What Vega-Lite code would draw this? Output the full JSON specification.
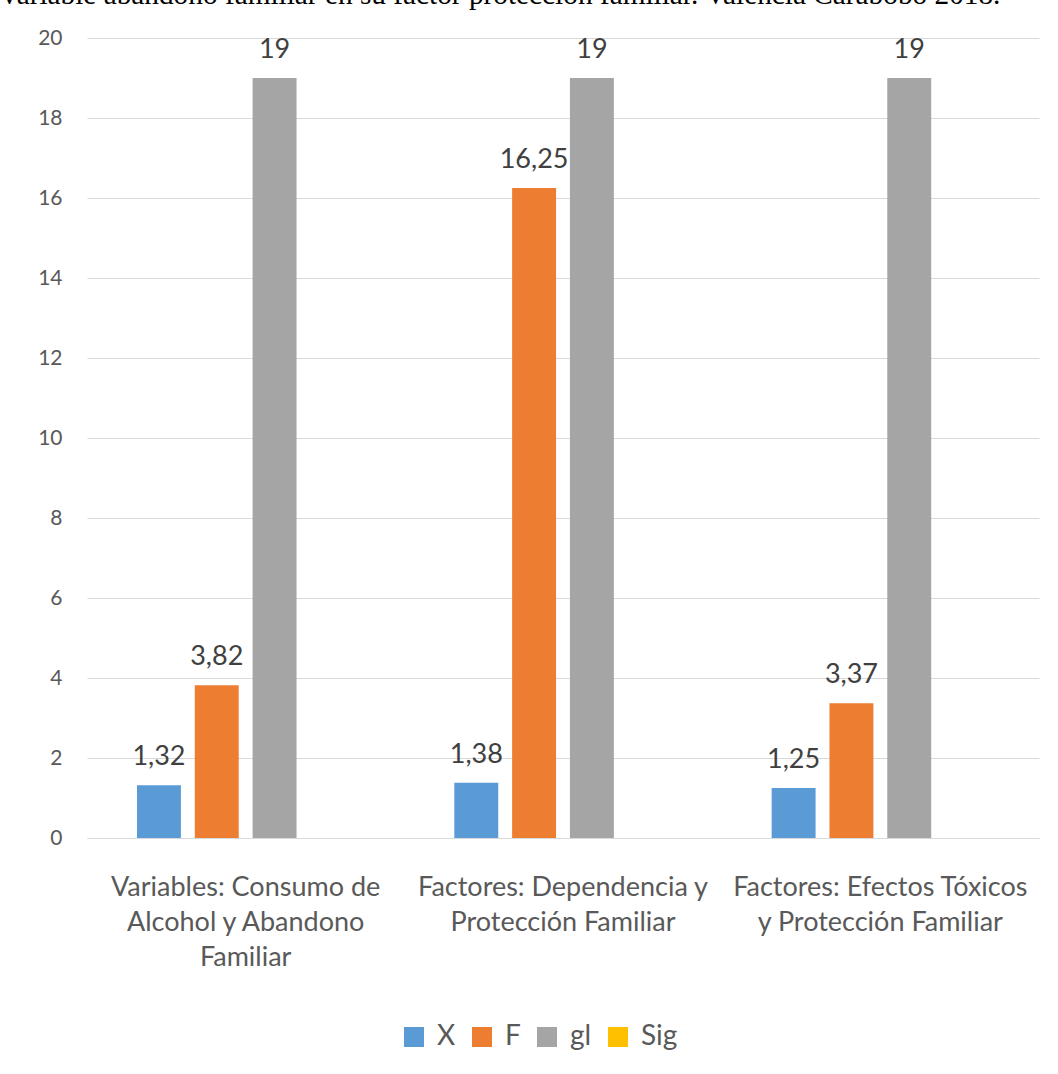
{
  "$schema": "https://vega.github.io/schema/vega-lite/v6.json",
  "autosize": {"type": "none"},
  "padding": {"left": 87, "top": 38, "right": 19, "bottom": 236},
  "width": 952,
  "height": 800,
  "background": "#ffffff",
  "title": {
    "text": "variable abandono familiar en su factor protección familiar. Valencia Carabobo 2018.",
    "anchor": "start",
    "frame": "group",
    "dx": -85,
    "offset": 17,
    "font": "Liberation Serif",
    "fontSize": 29.3,
    "fontWeight": "normal",
    "color": "#000000"
  },
  "data": {
    "values": [
      {"grupo": "Variables: Consumo de Alcohol y Abandono Familiar", "serie": "X", "valor": 1.32},
      {"grupo": "Variables: Consumo de Alcohol y Abandono Familiar", "serie": "F", "valor": 3.82},
      {"grupo": "Variables: Consumo de Alcohol y Abandono Familiar", "serie": "gl", "valor": 19},
      {"grupo": "Variables: Consumo de Alcohol y Abandono Familiar", "serie": "Sig", "valor": 0},
      {"grupo": "Factores: Dependencia y Protección Familiar", "serie": "X", "valor": 1.38},
      {"grupo": "Factores: Dependencia y Protección Familiar", "serie": "F", "valor": 16.25},
      {"grupo": "Factores: Dependencia y Protección Familiar", "serie": "gl", "valor": 19},
      {"grupo": "Factores: Dependencia y Protección Familiar", "serie": "Sig", "valor": 0},
      {"grupo": "Factores: Efectos Tóxicos y Protección Familiar", "serie": "X", "valor": 1.25},
      {"grupo": "Factores: Efectos Tóxicos y Protección Familiar", "serie": "F", "valor": 3.37},
      {"grupo": "Factores: Efectos Tóxicos y Protección Familiar", "serie": "gl", "valor": 19},
      {"grupo": "Factores: Efectos Tóxicos y Protección Familiar", "serie": "Sig", "valor": 0}
    ]
  },
  "encoding": {
    "x": {
      "field": "grupo",
      "type": "nominal",
      "sort": null,
      "scale": {"paddingInner": 0.315, "paddingOuter": 0.1575},
      "axis": {
        "title": null,
        "labelAngle": 0,
        "labelExpr": "datum.value == 'Variables: Consumo de Alcohol y Abandono Familiar' ? ['Variables: Consumo de', 'Alcohol y Abandono', 'Familiar'] : datum.value == 'Factores: Dependencia y Protección Familiar' ? ['Factores: Dependencia y', 'Protección Familiar'] : ['Factores: Efectos Tóxicos', 'y Protección Familiar']",
        "labelFont": "Lato",
        "labelFontSize": 27,
        "labelColor": "#595959",
        "labelLineHeight": 35,
        "labelPadding": 49,
        "labelBaseline": "middle",
        "labelLimit": 400,
        "ticks": false,
        "domain": true,
        "domainColor": "#D9D9D9",
        "domainWidth": 1,
        "grid": false
      }
    },
    "xOffset": {
      "field": "serie",
      "type": "nominal",
      "sort": ["X", "F", "gl", "Sig"],
      "scale": {"paddingInner": 0.24, "paddingOuter": 0}
    },
    "y": {
      "field": "valor",
      "type": "quantitative",
      "scale": {"domain": [0, 20], "nice": false},
      "axis": {
        "title": null,
        "values": [0, 2, 4, 6, 8, 10, 12, 14, 16, 18, 20],
        "labelFont": "Lato",
        "labelFontSize": 21,
        "labelColor": "#595959",
        "labelPadding": 25,
        "ticks": false,
        "domain": false,
        "grid": true,
        "gridColor": "#D9D9D9",
        "gridWidth": 1
      }
    }
  },
  "layer": [
    {
      "mark": {"type": "bar"},
      "encoding": {
        "color": {
          "field": "serie",
          "type": "nominal",
          "sort": ["X", "F", "gl", "Sig"],
          "scale": {
            "domain": ["X", "F", "gl", "Sig"],
            "range": ["#5B9BD5", "#ED7D31", "#A5A5A5", "#FFC000"]
          },
          "legend": {
            "title": null,
            "orient": "none",
            "legendX": 313,
            "legendY": 985,
            "direction": "horizontal",
            "symbolType": "square",
            "symbolSize": 400,
            "symbolStrokeWidth": 0,
            "labelFont": "Lato",
            "labelFontSize": 28,
            "labelColor": "#595959",
            "columnPadding": 12,
            "labelOffset": 9,
            "padding": 0
          }
        }
      }
    },
    {
      "transform": [{"filter": "datum.serie != 'Sig'"}],
      "mark": {
        "type": "text",
        "baseline": "alphabetic",
        "dy": -20,
        "font": "Lato",
        "fontSize": 27,
        "color": "#404040"
      },
      "encoding": {
        "text": {"field": "valor", "type": "quantitative", "format": "~g"}
      }
    }
  ],
  "config": {
    "view": {"stroke": null},
    "locale": {
      "number": {
        "decimal": ",",
        "thousands": ".",
        "grouping": [3],
        "currency": ["", " €"]
      }
    }
  }
}
